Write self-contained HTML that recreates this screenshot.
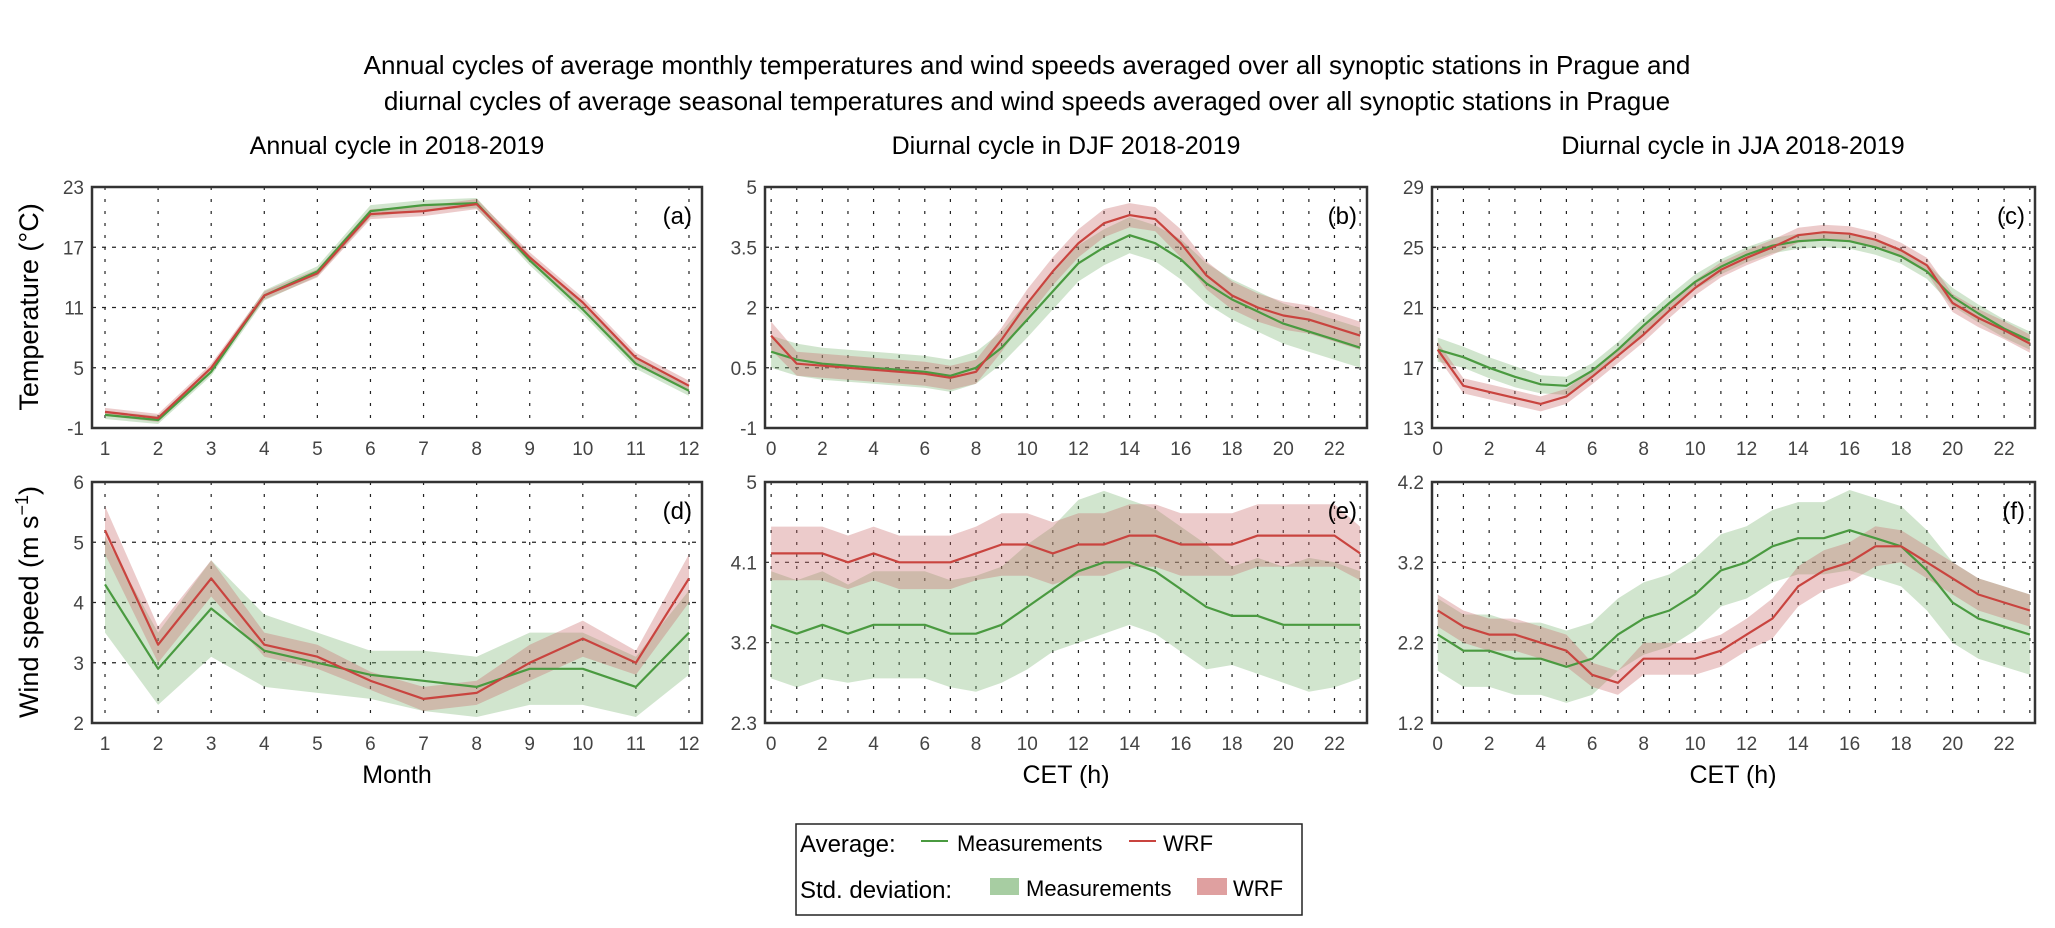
<!DOCTYPE html>
<html><head><meta charset="utf-8">
<style>
html,body{margin:0;padding:0;background:#fff;}
svg{display:block;font-family:"Liberation Sans",Arial,sans-serif;}
</style></head>
<body>
<svg id="chart" width="2055" height="928" viewBox="0 0 2055 928" xmlns="http://www.w3.org/2000/svg">
<text x="1027" y="74" font-size="26" text-anchor="middle">Annual cycles of average monthly temperatures and wind speeds averaged over all synoptic stations in Prague and</text>
<text x="1027" y="110" font-size="26" text-anchor="middle">diurnal cycles of average seasonal temperatures and wind speeds averaged over all synoptic stations in Prague</text>
<text x="397" y="154" font-size="25" text-anchor="middle">Annual cycle in 2018-2019</text>
<text x="1066" y="154" font-size="25" text-anchor="middle">Diurnal cycle in DJF 2018-2019</text>
<text x="1733" y="154" font-size="25" text-anchor="middle">Diurnal cycle in JJA 2018-2019</text>
<text transform="translate(38,307) rotate(-90)" font-size="27" text-anchor="middle">Temperature (°C)</text>
<text transform="translate(38,602) rotate(-90)" font-size="27" text-anchor="middle">Wind speed (m s<tspan dy="-10" font-size="18">−1</tspan><tspan dy="10">)</tspan></text>
<text x="397" y="783" font-size="25" text-anchor="middle">Month</text>
<text x="1066" y="783" font-size="25" text-anchor="middle">CET (h)</text>
<text x="1733" y="783" font-size="25" text-anchor="middle">CET (h)</text>
<g id="panels"></g>
<g>
<rect x="796" y="824" width="506" height="91" fill="#fff" stroke="#222" stroke-width="1.5"/>
<text x="800" y="852" font-size="24">Average:</text>
<line x1="921" y1="841" x2="948" y2="841" stroke="#4a9a40" stroke-width="2"/>
<text x="957" y="851" font-size="22">Measurements</text>
<line x1="1129" y1="841" x2="1156" y2="841" stroke="#c9443f" stroke-width="2"/>
<text x="1163" y="851" font-size="22">WRF</text>
<text x="800" y="898" font-size="24">Std. deviation:</text>
<rect x="990" y="878" width="29" height="17" fill="#a7cda2"/>
<text x="1026" y="896" font-size="22">Measurements</text>
<rect x="1197" y="878" width="30" height="17" fill="#dfa0a0"/>
<text x="1233" y="896" font-size="22">WRF</text>
</g>
</svg>
<script>
// ---- data ----
const months = [1,2,3,4,5,6,7,8,9,10,11,12];
const hours = [0,1,2,3,4,5,6,7,8,9,10,11,12,13,14,15,16,17,18,19,20,21,22,23];
const tempTicksA = [-1,5,11,17,23];
const tempTicksB = [-1,0.5,2,3.5,5];
const tempTicksC = [13,17,21,25,29];
const windTicksD = [2,3,4,5,6];
const windTicksE = [2.3,3.2,4.1,5];
const windTicksF = [1.2,2.2,3.2,4.2];
const monthTickLabels = [1,2,3,4,5,6,7,8,9,10,11,12];
const hourTickLabels = [0,2,4,6,8,10,12,14,16,18,20,22];

const annTempMeas = [0.3,-0.2,4.6,12.2,14.6,20.6,21.2,21.4,15.7,10.8,5.4,2.7];
const annTempWrf  = [0.6,0.0,5.0,12.2,14.4,20.3,20.6,21.3,16.0,11.5,6.0,3.2];
const annTempMeasStd = [0.4,0.4,0.4,0.5,0.5,0.6,0.5,0.5,0.5,0.5,0.5,0.5];
const annTempWrfStd  = [0.4,0.4,0.4,0.4,0.4,0.5,0.5,0.5,0.5,0.5,0.5,0.5];

const annWindMeas = [4.3,2.9,3.9,3.2,3.0,2.8,2.7,2.6,2.9,2.9,2.6,3.5];
const annWindWrf  = [5.2,3.3,4.4,3.3,3.1,2.7,2.4,2.5,3.0,3.4,3.0,4.4];
const annWindMeasStd = [0.8,0.6,0.8,0.6,0.5,0.4,0.5,0.5,0.6,0.6,0.5,0.7];
const annWindWrfStd  = [0.4,0.3,0.3,0.2,0.2,0.15,0.2,0.2,0.3,0.3,0.2,0.4];

const djfTempMeas = [0.9,0.7,0.6,0.55,0.5,0.45,0.4,0.3,0.5,1.0,1.7,2.4,3.1,3.5,3.8,3.6,3.2,2.6,2.2,1.9,1.6,1.4,1.2,1.0];
const djfTempWrf  = [1.3,0.6,0.55,0.5,0.45,0.4,0.35,0.25,0.4,1.2,2.1,2.9,3.6,4.1,4.3,4.2,3.6,2.8,2.3,2.0,1.8,1.7,1.5,1.3];
const djfTempMeasStd = [0.4,0.4,0.4,0.4,0.4,0.4,0.4,0.4,0.4,0.4,0.45,0.45,0.45,0.45,0.45,0.45,0.5,0.5,0.5,0.5,0.5,0.5,0.5,0.5];
const djfTempWrfStd  = [0.35,0.3,0.3,0.3,0.3,0.3,0.3,0.3,0.3,0.3,0.35,0.35,0.35,0.35,0.3,0.3,0.35,0.35,0.35,0.35,0.35,0.35,0.35,0.35];

const jjaTempMeas = [18.2,17.7,17.0,16.4,15.9,15.8,16.8,18.2,19.8,21.3,22.7,23.7,24.5,25.1,25.4,25.5,25.4,25.0,24.4,23.4,21.7,20.6,19.6,18.8];
const jjaTempWrf  = [18.2,15.8,15.4,15.0,14.6,15.1,16.4,17.8,19.2,20.8,22.3,23.5,24.3,25.0,25.8,26.0,25.9,25.5,24.8,23.8,21.3,20.3,19.5,18.6];
const jjaTempMeasStd = [0.8,0.7,0.7,0.7,0.6,0.6,0.5,0.5,0.5,0.5,0.5,0.5,0.5,0.5,0.5,0.5,0.5,0.5,0.5,0.5,0.6,0.6,0.6,0.6];
const jjaTempWrfStd  = [0.5,0.5,0.5,0.5,0.5,0.5,0.5,0.5,0.5,0.5,0.5,0.5,0.5,0.5,0.5,0.5,0.5,0.5,0.5,0.5,0.6,0.6,0.6,0.6];

const djfWindMeas = [3.4,3.3,3.4,3.3,3.4,3.4,3.4,3.3,3.3,3.4,3.6,3.8,4.0,4.1,4.1,4.0,3.8,3.6,3.5,3.5,3.4,3.4,3.4,3.4];
const djfWindWrf  = [4.2,4.2,4.2,4.1,4.2,4.1,4.1,4.1,4.2,4.3,4.3,4.2,4.3,4.3,4.4,4.4,4.3,4.3,4.3,4.4,4.4,4.4,4.4,4.2];
const djfWindMeasStd = [0.6,0.6,0.6,0.55,0.6,0.6,0.6,0.6,0.65,0.65,0.7,0.7,0.8,0.8,0.7,0.7,0.7,0.7,0.55,0.65,0.65,0.75,0.7,0.6];
const djfWindWrfStd  = [0.3,0.3,0.3,0.3,0.3,0.3,0.3,0.3,0.3,0.35,0.35,0.35,0.35,0.35,0.35,0.35,0.35,0.35,0.35,0.35,0.35,0.35,0.35,0.3];

const jjaWindMeas = [2.3,2.1,2.1,2.0,2.0,1.9,2.0,2.3,2.5,2.6,2.8,3.1,3.2,3.4,3.5,3.5,3.6,3.5,3.4,3.1,2.7,2.5,2.4,2.3];
const jjaWindWrf  = [2.6,2.4,2.3,2.3,2.2,2.1,1.8,1.7,2.0,2.0,2.0,2.1,2.3,2.5,2.9,3.1,3.2,3.4,3.4,3.2,3.0,2.8,2.7,2.6];
const jjaWindMeasStd = [0.45,0.45,0.45,0.45,0.45,0.45,0.45,0.45,0.45,0.45,0.45,0.45,0.45,0.45,0.45,0.45,0.5,0.5,0.5,0.5,0.5,0.5,0.5,0.5];
const jjaWindWrfStd  = [0.2,0.2,0.2,0.2,0.2,0.2,0.15,0.15,0.2,0.2,0.2,0.2,0.2,0.25,0.25,0.25,0.25,0.25,0.2,0.2,0.2,0.2,0.2,0.2];

// ---- layout ----
const NS = 'http://www.w3.org/2000/svg';
const root = document.getElementById('panels');
function mk(tag, attrs, parent){
  const e = document.createElementNS(NS, tag);
  for (const k in attrs) e.setAttribute(k, attrs[k]);
  parent.appendChild(e);
  return e;
}
const panels = [
  {id:'a', x0:92, x1:702, y0:187, y1:428, xd:[0.755,12.245], yd:[-1,23], xs:months, xticks:months, xtl:monthTickLabels, yt:tempTicksA, m:annTempMeas, w:annTempWrf, ms:annTempMeasStd, ws:annTempWrfStd},
  {id:'b', x0:765, x1:1367, y0:187, y1:428, xd:[-0.24,23.27], yd:[-1,5], xs:hours, xticks:hours, xtl:hourTickLabels, yt:tempTicksB, m:djfTempMeas, w:djfTempWrf, ms:djfTempMeasStd, ws:djfTempWrfStd},
  {id:'c', x0:1432, x1:2035, y0:187, y1:428, xd:[-0.22,23.2], yd:[13,29], xs:hours, xticks:hours, xtl:hourTickLabels, yt:tempTicksC, m:jjaTempMeas, w:jjaTempWrf, ms:jjaTempMeasStd, ws:jjaTempWrfStd},
  {id:'d', x0:92, x1:702, y0:482, y1:723, xd:[0.755,12.245], yd:[2,6], xs:months, xticks:months, xtl:monthTickLabels, yt:windTicksD, m:annWindMeas, w:annWindWrf, ms:annWindMeasStd, ws:annWindWrfStd},
  {id:'e', x0:765, x1:1367, y0:482, y1:723, xd:[-0.24,23.27], yd:[2.3,5], xs:hours, xticks:hours, xtl:hourTickLabels, yt:windTicksE, m:djfWindMeas, w:djfWindWrf, ms:djfWindMeasStd, ws:djfWindWrfStd},
  {id:'f', x0:1432, x1:2035, y0:482, y1:723, xd:[-0.22,23.2], yd:[1.2,4.2], xs:hours, xticks:hours, xtl:hourTickLabels, yt:windTicksF, m:jjaWindMeas, w:jjaWindWrf, ms:jjaWindMeasStd, ws:jjaWindWrfStd}
];

panels.forEach(p => {
  const X = v => p.x0 + (v - p.xd[0]) / (p.xd[1] - p.xd[0]) * (p.x1 - p.x0);
  const Y = v => p.y1 - (v - p.yd[0]) / (p.yd[1] - p.yd[0]) * (p.y1 - p.y0);
  const g = mk('g', {}, root);
  
  
  p.xticks.forEach(t => {
    const l = mk('line', {x1:X(t), x2:X(t), y1:p.y0, y2:p.y1, stroke:'#222', 'stroke-width':1.2, 'stroke-dasharray':'3,9'}, g);
    
    
  });
  p.yt.forEach(t => {
    if (t === p.yd[0] || t === p.yd[1]) return;
    const l = mk('line', {x1:p.x0, x2:p.x1, y1:Y(t), y2:Y(t), stroke:'#222', 'stroke-width':1.2, 'stroke-dasharray':'4,6'}, g);
    
    
  });
  function band(vals, sd, fill, op, name){
    let d = '';
    p.xs.forEach((x,i) => { d += (i ? 'L' : 'M') + X(x).toFixed(1) + ',' + Y(vals[i] + sd[i]).toFixed(1); });
    for (let i = p.xs.length - 1; i >= 0; i--) d += 'L' + X(p.xs[i]).toFixed(1) + ',' + Y(vals[i] - sd[i]).toFixed(1);
    const e = mk('path', {d: d + 'Z', fill: fill, 'fill-opacity': op}, g);
    
    
  }
  band(p.m, p.ms, '#7fb877', 0.36, 'std-band-measurements');
  band(p.w, p.ws, '#c96a6a', 0.35, 'std-band-wrf');
  function line(vals, col, name){
    const pts = p.xs.map((x,i) => X(x).toFixed(1) + ',' + Y(vals[i]).toFixed(1)).join(' ');
    const e = mk('polyline', {points: pts, fill:'none', stroke: col, 'stroke-width': 2.2, 'stroke-linejoin':'round'}, g);
    
    
  }
  line(p.m, '#4a9a40', 'line-measurements');
  line(p.w, '#c9443f', 'line-wrf');
  const fr = mk('rect', {x:p.x0, y:p.y0, width:p.x1-p.x0, height:p.y1-p.y0, fill:'none', stroke:'#333', 'stroke-width':2.5}, g);
  
  
  p.yt.forEach(t => {
    const e = mk('text', {x:p.x0 - 8, y:Y(t) + 7, 'font-size':19, fill:'#444', 'text-anchor':'end'}, g);
    e.textContent = String(t);
    
    
  });
  p.xtl.forEach(t => {
    const e = mk('text', {x:X(t), y:p.y1 + 27, 'font-size':19, fill:'#444', 'text-anchor':'middle'}, g);
    e.textContent = String(t);
    
    
  });
  const lab = mk('text', {x:p.x1 - 10, y:p.y0 + 37, 'font-size':24, 'text-anchor':'end'}, g);
  lab.textContent = '(' + p.id + ')';
  
  
});
</script>
</body></html>
